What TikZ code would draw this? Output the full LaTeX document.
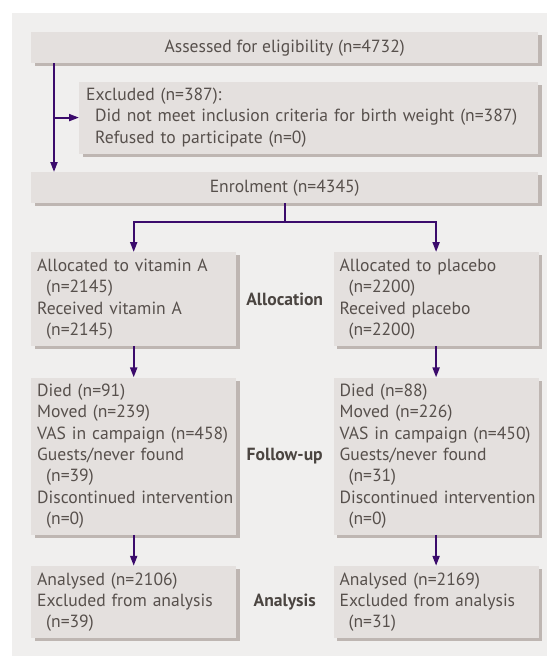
\documentclass[tikz,border=0pt]{standalone}
\usepackage{fontspec}
\setmainfont{PT Sans}
\usepackage{tikz}
\usetikzlibrary{
  positioning,
  arrows.meta,
  shadows
}
\definecolor{panelgray}{HTML}{F0EFEE}
\definecolor{boxgray}{HTML}{E4E0DE}
\definecolor{shadowgray}{HTML}{BEB6B2}
\definecolor{flowpurple}{HTML}{3B0B6C}
\definecolor{textgray}{HTML}{57504C}
\definecolor{stagegray}{HTML}{4B4541}
\tikzset{
  >={Triangle[length=10pt,width=7pt]},
  flow/.style={->, draw=flowpurple, line width=2pt},
  box/.style={fill=boxgray, text=textgray, inner xsep=6pt, inner ysep=3pt,
    font=\fontsize{17.6}{21.3}\selectfont,
    drop shadow={shadow xshift=3.5pt, shadow yshift=-3pt, fill=shadowgray, opacity=1}},
  widebox/.style={box, minimum width=507pt, minimum height=31pt, anchor=north west},
  colbox/.style={box, text width=193pt, align=left},
  stage/.style={text=stagegray, font=\fontsize{17.6}{21}\selectfont\bfseries}
}
\newcommand{\subline}{\hspace*{9pt}}

\begin{document}
\begin{tikzpicture}[x=1pt, y=1pt]
    \useasboundingbox (0,0) rectangle (547,-656);
    \fill[panelgray] (12,-13) rectangle (547,-656);

    \node[widebox] (assess) at (31,-32) {Assessed for eligibility (n=4732)};
    \node[box, inner xsep=7pt, text width=445pt, align=left, minimum height=72pt,
      below=18pt of assess.south east, anchor=north east] (excl)
      {Excluded (n=387):\\
       \subline Did not meet inclusion criteria for birth weight (n=387)\\
       \subline Refused to participate (n=0)};
    \node[widebox] (enrol) at (31,-172) {Enrolment (n=4345)};

    \node[colbox, minimum height=94pt, anchor=north west] (allocA) at (31,-252)
      {Allocated to vitamin A\\ \subline(n=2145)\\Received vitamin A\\ \subline(n=2145)};
    \node[colbox, minimum height=94pt, right=97pt of allocA] (allocP)
      {Allocated to placebo\\ \subline(n=2200)\\Received placebo\\ \subline(n=2200)};
    \node[colbox, minimum height=157pt, below=31pt of allocA] (followA)
      {Died (n=91)\\Moved (n=239)\\VAS in campaign (n=458)\\Guests/never found\\
       \subline(n=39)\\\mbox{Discontinued intervention}\\ \subline(n=0)};
    \node[colbox, minimum height=157pt, below=31pt of allocP] (followP)
      {Died (n=88)\\Moved (n=226)\\VAS in campaign (n=450)\\Guests/never found\\
       \subline(n=31)\\\mbox{Discontinued intervention}\\ \subline(n=0)};
    \node[colbox, minimum height=72pt, below=31pt of followA] (analA)
      {Analysed (n=2106)\\Excluded from analysis\\ \subline(n=39)};
    \node[colbox, minimum height=72pt, below=31pt of followP] (analP)
      {Analysed (n=2169)\\Excluded from analysis\\ \subline(n=31)};

    \node[stage] (lalloc) at (allocA.east -| enrol.south) {Allocation};
    \node[stage] (lfollow) at (followA.east -| enrol.south) {Follow-up};
    \node[stage] (lanal) at (analA.east -| enrol.south) {Analysis};

    \path ([xshift=23pt]assess.south west) coordinate (trunk);
    \draw[flow] (trunk) -- (trunk |- enrol.north);
    \draw[flow] (trunk |- excl.west) -- (excl.west);
    \draw[flow, -] (enrol.south) -- ++(0,-19) coordinate (fork);
    \draw[flow] (fork) -| (allocA.north);
    \draw[flow] (fork) -| (allocP.north);
    \draw[flow] (allocA) -- (followA);
    \draw[flow] (allocP) -- (followP);
    \draw[flow] (followA) -- (analA);
    \draw[flow] (followP) -- (analP);
  \end{tikzpicture}
\end{document}
